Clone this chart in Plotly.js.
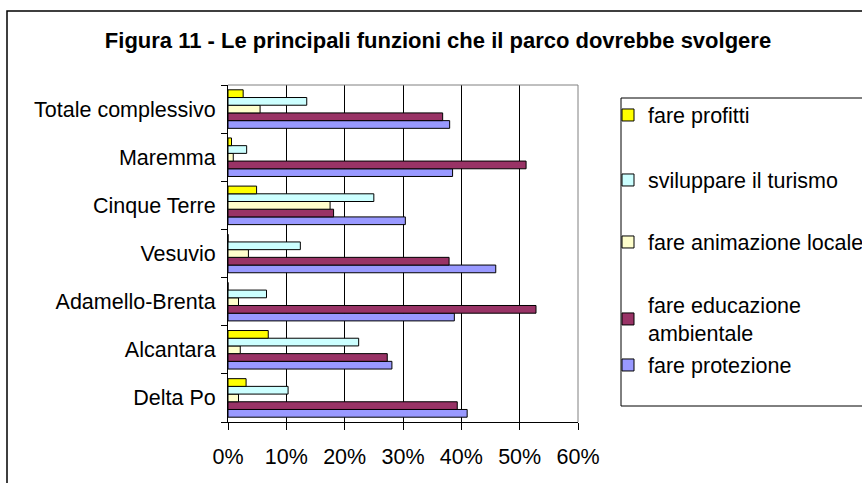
<!DOCTYPE html>
<html>
<head>
<meta charset="utf-8">
<script src="https://cdn.plot.ly/plotly-3.0.1.min.js"></script>
<style>
  html, body { margin: 0; padding: 0; background: #fff; }
  #chart { width: 862px; height: 483px; }
</style>
</head>
<body>
<div id="chart"></div>
<script>
// Categories (bottom to top)
const parks = ["Delta Po", "Alcantara", "Adamello-Brenta", "Vesuvio", "Cinque Terre", "Maremma", "Totale complessivo"];

// Series values (%) in the same order as parks
const fareProtezione   = [41.0, 28.1, 38.8, 45.9, 30.4, 38.5, 38.0];
const fareEducazione   = [39.3, 27.3, 52.8, 37.9, 18.1, 51.1, 36.8];
const fareAnimazione   = [1.8, 2.1, 1.8, 3.5, 17.5, 0.9, 5.5];
const sviluppareTurismo = [10.3, 22.4, 6.6, 12.4, 25.0, 3.2, 13.5];
const fareProfitti     = [3.1, 6.9, 0, 0, 4.9, 0.6, 2.6];

const seriesNames = ["fare protezione", "fare educazione<br>ambientale", "fare animazione locale", "sviluppare il turismo", "fare profitti"];
const seriesData = [fareProtezione, fareEducazione, fareAnimazione, sviluppareTurismo, fareProfitti];
const seriesColors = ["#9999FF", "#993366", "#FFFFCC", "#CCFFFF", "#FFFF00"];
const legendIds = ["legend5", "legend4", "legend3", "legend2", "legend"];

const xTicks = [0, 10, 20, 30, 40, 50, 60];

const FONT = "Liberation Sans, Arial, sans-serif";
const LABEL_SIZE = 21.5;

const traces = seriesData.map((vals, i) => ({
  type: "bar",
  orientation: "h",
  name: seriesNames[i],
  y: parks,
  x: vals,
  legend: legendIds[i],
  marker: { color: seriesColors[i], line: { color: "#000", width: 1 } },
  hoverinfo: "x+y+name"
}));

// Legend centres in pixels (converted to paper coords)
const plotTop = 85, plotH = 337, plotLeft = 228, plotW = 350;
const pxToPaperY = p => 1 - (p - plotTop) / plotH;
const pxToPaperX = p => (p - plotLeft) / plotW;
const legendCentres = { legend: 115, legend2: 180, legend3: 242, legend4: 319, legend5: 365 };

const layout = {
  width: 862,
  height: 483,
  margin: { l: 228, r: 284, t: 85, b: 61, autoexpand: false },
  paper_bgcolor: "#fff",
  plot_bgcolor: "#fff",
  font: { family: FONT, size: LABEL_SIZE, color: "#000" },
  title: {
    text: "<b>Figura 11 - Le principali funzioni che il parco dovrebbe svolgere</b>",
    font: { family: FONT, size: 22, color: "#000" },
    x: 438 / 862, xanchor: "center",
    y: 1 - 40 / 483, yanchor: "middle"
  },
  barmode: "group",
  bargap: 0.2,
  bargroupgap: 0,
  xaxis: {
    range: [0, 60],
    tickvals: xTicks,
    ticktext: xTicks.map(v => v + "%"),
    showgrid: true,
    gridcolor: "#000",
    gridwidth: 1,
    zeroline: false,
    showline: true,
    linecolor: "#000",
    linewidth: 1,
    ticks: "outside",
    ticklen: 7,
    tickcolor: "#000",
    ticklabelstandoff: 8,
    tickfont: { family: FONT, size: LABEL_SIZE, color: "#000" },
    fixedrange: true
  },
  yaxis: {
    type: "category",
    categoryorder: "array",
    categoryarray: parks,
    showgrid: false,
    zeroline: false,
    showline: true,
    linecolor: "#000",
    linewidth: 1,
    ticks: "outside",
    tickson: "boundaries",
    ticklen: 6,
    tickcolor: "#000",
    ticklabelstandoff: 7,
    tickfont: { family: FONT, size: LABEL_SIZE, color: "#000" },
    fixedrange: true
  },
  shapes: [
    // plot area border (top and right)
    { type: "path", xref: "paper", yref: "paper", path: "M0,1 L1,1 L1,0", line: { color: "#808080", width: 1 }, layer: "above" },
    // legend box
    { type: "rect", xref: "paper", yref: "paper",
      x0: pxToPaperX(621), x1: pxToPaperX(880), y0: pxToPaperY(406), y1: pxToPaperY(98),
      line: { color: "#000", width: 1 }, fillcolor: "rgba(0,0,0,0)", layer: "above" },
    // outer chart border
    { type: "rect", xref: "paper", yref: "paper",
      x0: pxToPaperX(7), x1: pxToPaperX(880), y0: pxToPaperY(500), y1: pxToPaperY(11),
      line: { color: "#000", width: 1.5 }, fillcolor: "rgba(0,0,0,0)", layer: "above" }
  ],
  showlegend: true
};

Object.keys(legendCentres).forEach(id => {
  layout[id] = {
    x: pxToPaperX(608), xanchor: "left",
    y: pxToPaperY(legendCentres[id]), yanchor: "middle",
    bgcolor: "rgba(0,0,0,0)",
    borderwidth: 0,
    font: { family: FONT, size: LABEL_SIZE, color: "#000" },
    itemclick: false, itemdoubleclick: false
  };
});

Plotly.newPlot("chart", traces, layout, { displayModeBar: false, staticPlot: true });
</script>
</body>
</html>
